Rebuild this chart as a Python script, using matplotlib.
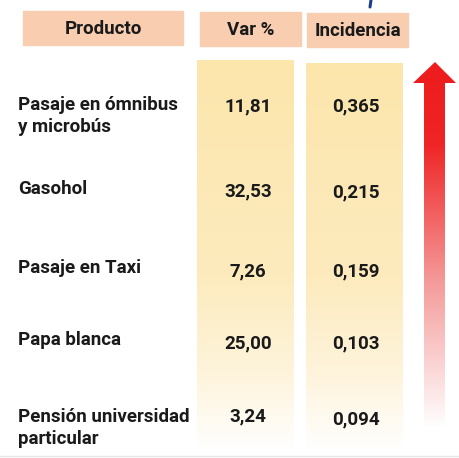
import numpy as np
import matplotlib.pyplot as plt
from matplotlib.patches import Rectangle, Polygon
from matplotlib.colors import LinearSegmentedColormap

headers = ['Producto', 'Var %', 'Incidencia']
productos = ['Pasaje en ómnibus\ny microbús', 'Gasohol', 'Pasaje en Taxi',
             'Papa blanca', 'Pensión universidad\nparticular']
var_pct = [11.81, 32.53, 7.26, 25.00, 3.24]
incidencia = [0.365, 0.215, 0.159, 0.103, 0.094]


def coma(v, dec):
    return f'{v:.{dec}f}'.replace('.', ',')


fig = plt.figure(figsize=(4.6, 4.58), dpi=100)
ax = fig.add_axes([0, 0, 1, 1])
ax.set_xlim(0, 460)
ax.set_ylim(458, 0)
ax.axis('off')

font = dict(family=['Roboto', 'DejaVu Sans'], fontweight='bold', color='#1a1a1a')

# header boxes
hdr_boxes = [(23, 11, 160, 34), (200, 12, 101, 34), (307, 13, 101, 34)]
for (x, y, w, h), t in zip(hdr_boxes, headers):
    ax.add_patch(Rectangle((x, y), w, h, color='#F8CDB0', zorder=1))
    ax.text(x + w / 2, y + h / 2 + 1, t, ha='center', va='center', fontsize=13.5, zorder=2, **font)

# gradient columns
col_cmap = LinearSegmentedColormap.from_list(
    'col', [(0, '#FCE6AC'), (0.55, '#FDEBBE'), (0.8, '#FEF4DC'), (1, '#FFFFFF')])
grad = np.linspace(0, 1, 256).reshape(-1, 1)
for x0, x1, y0 in [(197, 294, 60), (306, 403, 63)]:
    ax.imshow(grad, cmap=col_cmap, aspect='auto', extent=(x0, x1, 452, y0), zorder=0)

# red arrow
arrow_pts = [(424, 428), (424, 83), (413, 83), (435, 62), (456, 83), (445, 83), (445, 428)]
arrow = Polygon(arrow_pts, closed=True, facecolor='none', edgecolor='none')
ax.add_patch(arrow)
arr_cmap = LinearSegmentedColormap.from_list(
    'arr', [(0, '#EE1C1C'), (0.22, '#EF2424'), (0.6, '#F59A9A'), (1, '#FFFFFF')])
im = ax.imshow(grad, cmap=arr_cmap, aspect='auto', extent=(410, 458, 428, 62), zorder=1)
im.set_clip_path(arrow)

# tiny fragment of the cut-off title
ax.plot([371, 370], [0, 7], color='#1F3C88', lw=2.2, solid_capstyle='round')

# rows
prod_y = [116, 189, 268, 340, 428]
var_y = [106, 191, 271, 343, 416]
inc_y = [106, 192, 271, 343, 419]
for i, p in enumerate(productos):
    ax.text(18, prod_y[i], p, ha='left', va='center', fontsize=13.5, linespacing=1.25, **font)
    ax.text(248, var_y[i], coma(var_pct[i], 2), ha='center', va='center', fontsize=13.5, **font)
    ax.text(356, inc_y[i], coma(incidencia[i], 3), ha='center', va='center', fontsize=13.5, **font)

ax.plot([0, 460], [456, 456], color='#E6E6E6', lw=1)

fig.savefig('out.png', dpi=100)
